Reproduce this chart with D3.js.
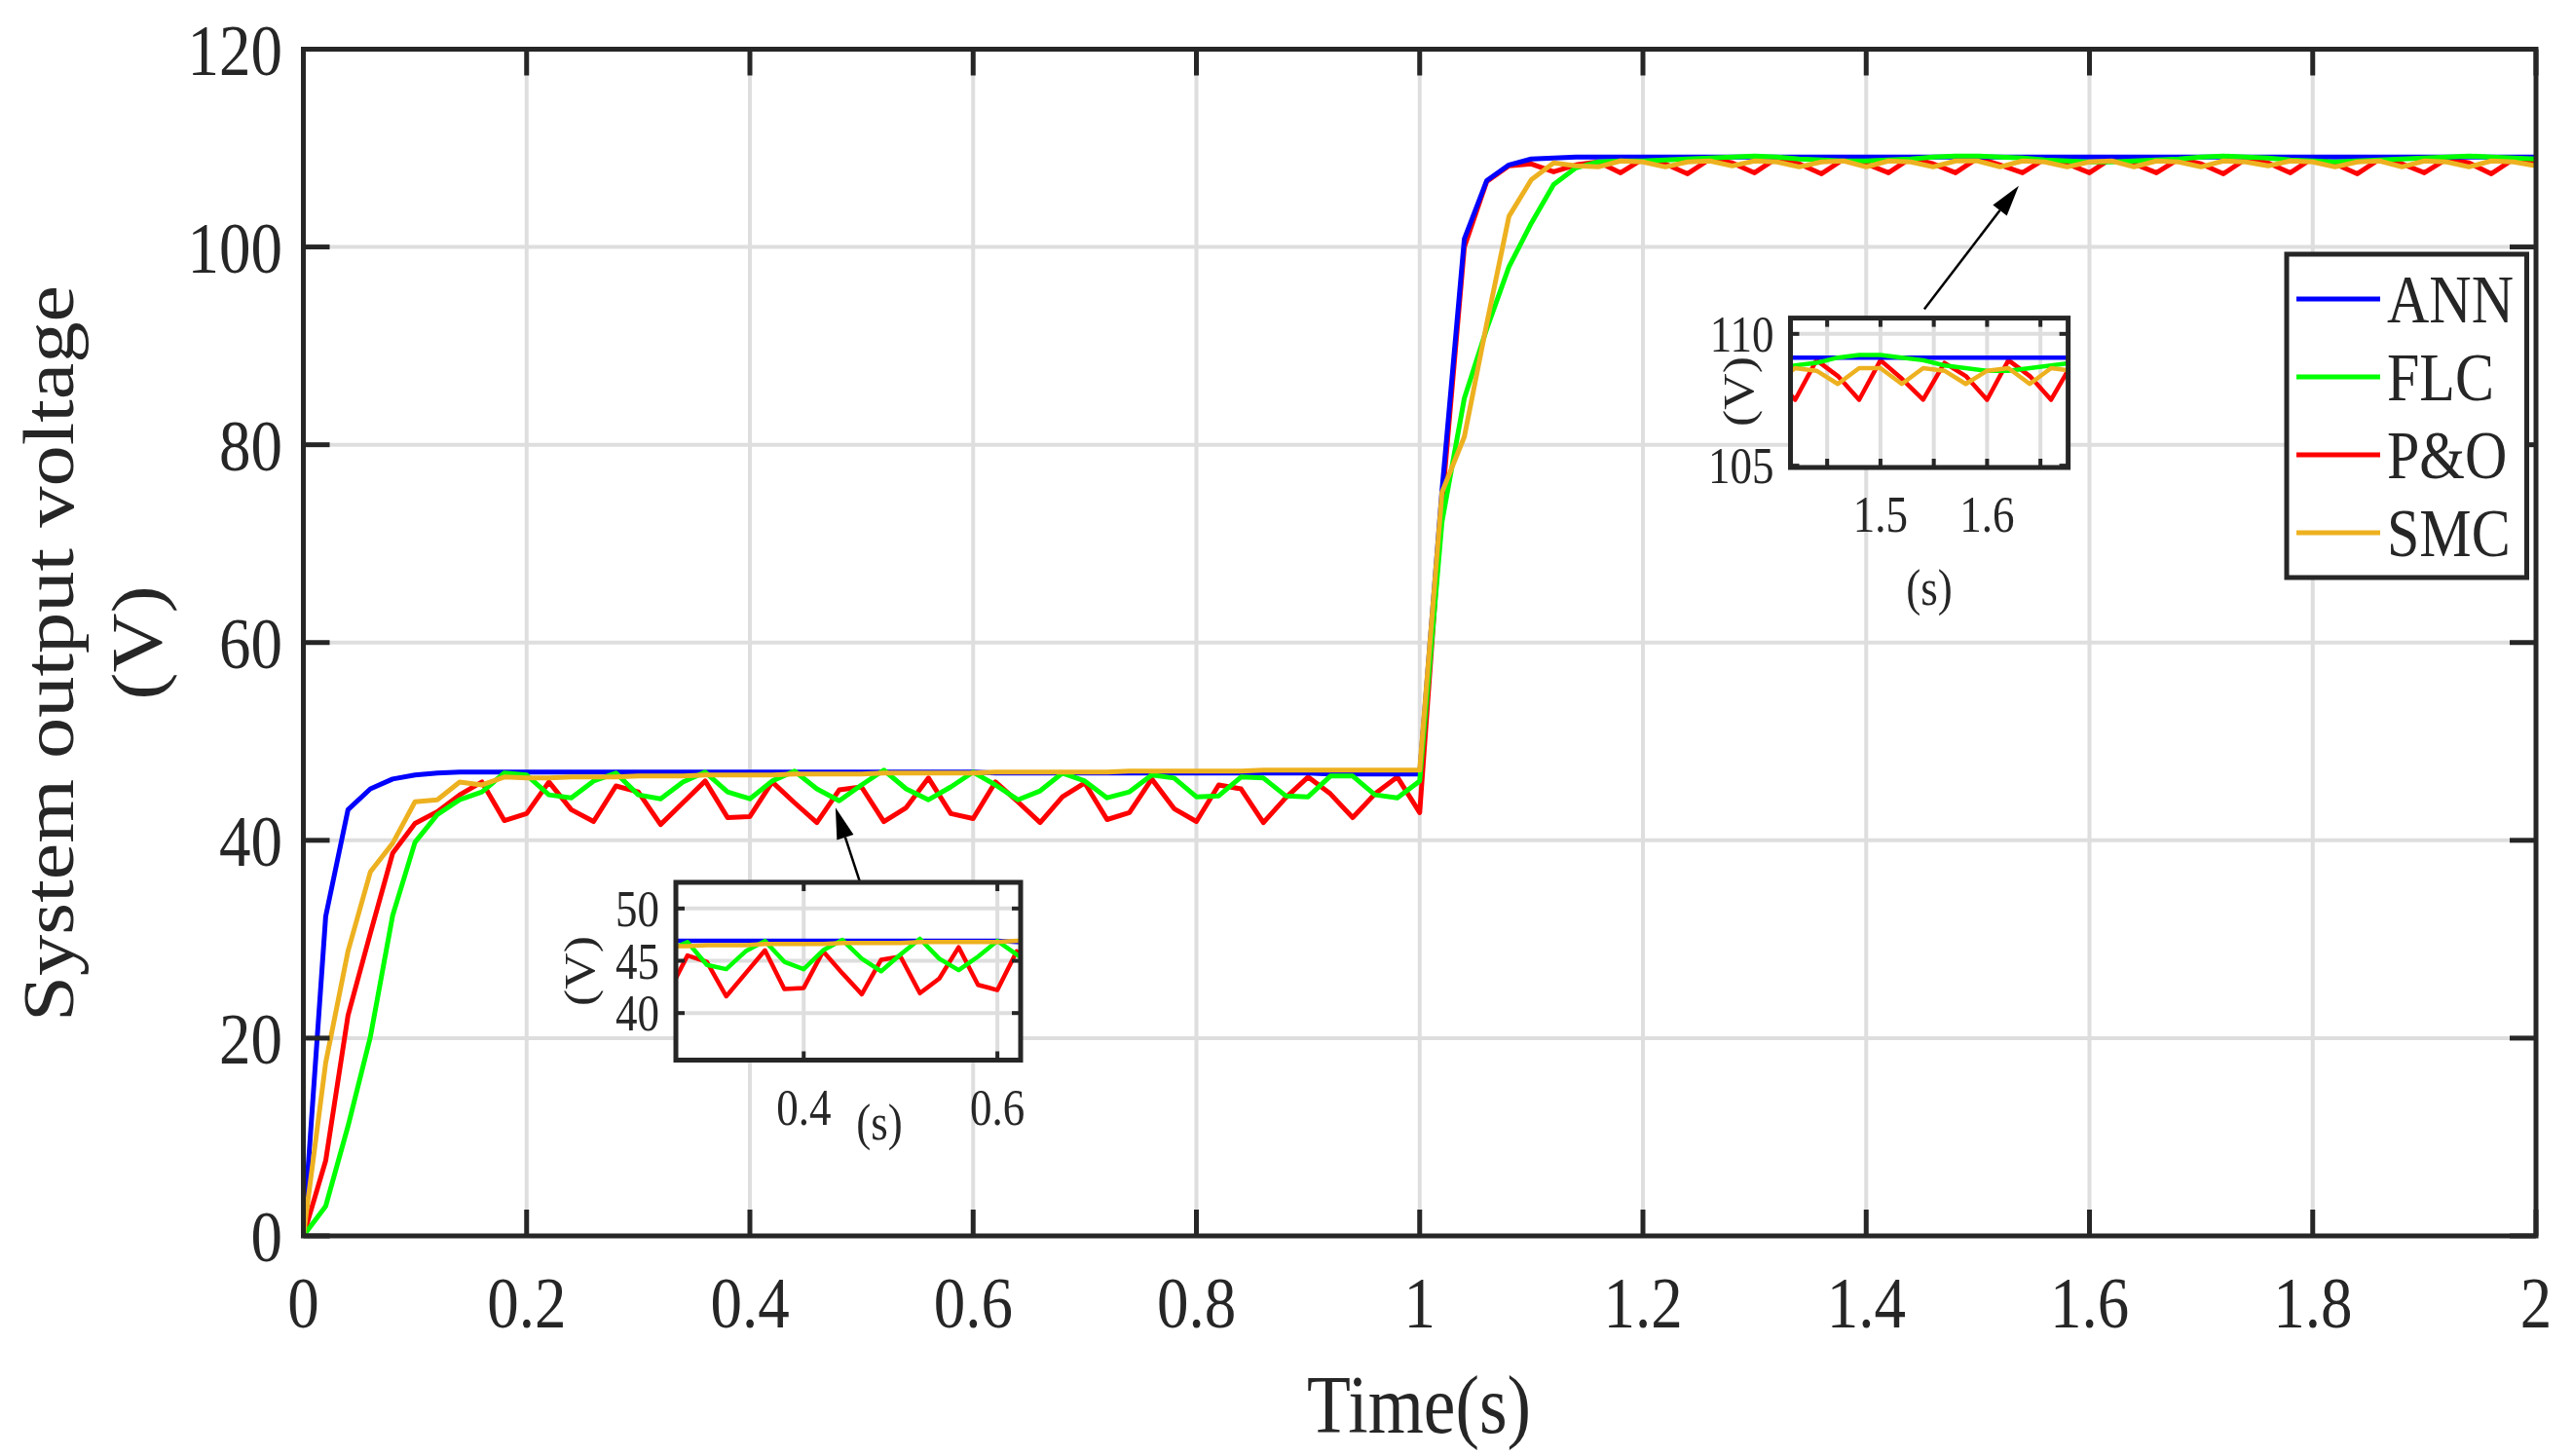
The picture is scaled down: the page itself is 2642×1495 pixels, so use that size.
<!DOCTYPE html>
<html>
<head>
<meta charset="utf-8">
<script src="https://cdn.jsdelivr.net/npm/d3@7"></script>
<style>
  body { margin: 0; background: #fff; }
  text { font-family: "Liberation Serif", "Times New Roman", serif; fill: #262626; }
</style>
</head>
<body>
<div id="chart"></div>
<script>
// sample times (s)
const time = [0,0.02,0.04,0.06,0.08,0.1,0.12,0.14,0.16,0.18,0.2,0.22,0.24,0.26,0.28,0.3,0.32,0.34,0.36,0.38,
  0.4,0.42,0.44,0.46,0.48,0.5,0.52,0.54,0.56,0.58,0.6,0.62,0.64,0.66,0.68,0.7,0.72,0.74,0.76,0.78,
  0.8,0.82,0.84,0.86,0.88,0.9,0.92,0.94,0.96,0.98,1,1.02,1.04,1.06,1.08,1.1,1.12,1.14,1.16,1.18,
  1.2,1.22,1.24,1.26,1.28,1.3,1.32,1.34,1.36,1.38,1.4,1.42,1.44,1.46,1.48,1.5,1.52,1.54,1.56,1.58,
  1.6,1.62,1.64,1.66,1.68,1.7,1.72,1.74,1.76,1.78,1.8,1.82,1.84,1.86,1.88,1.9,1.92,1.94,1.96,1.98,2];

// output voltage (V) per controller
const ann = [0,32.3,43.1,45.2,46.2,46.6,46.8,46.9,46.9,46.9,
  46.9,46.9,46.9,46.9,46.9,46.9,46.9,46.9,46.9,46.9,
  46.9,46.9,46.9,46.9,46.9,46.9,46.9,46.9,46.9,46.9,
  46.9,46.8,46.8,46.8,46.8,46.8,46.8,46.8,46.8,46.8,
  46.8,46.8,46.8,46.8,46.8,46.8,46.7,46.7,46.7,46.7,
  46.7,75.4,100.8,106.7,108.3,108.9,109.0,109.1,109.1,109.1,
  109.1,109.1,109.1,109.1,109.1,109.1,109.1,109.1,109.1,109.1,
  109.1,109.1,109.1,109.1,109.1,109.1,109.1,109.1,109.1,109.1,
  109.1,109.1,109.1,109.1,109.1,109.1,109.1,109.1,109.1,109.1,
  109.1,109.1,109.1,109.1,109.1,109.1,109.1,109.1,109.1,109.1,
  109.1];

const flc = [0,3.0,11.1,20.1,32.4,39.8,42.6,44.1,44.9,46.8,
  46.6,44.6,44.3,46.0,46.8,44.6,44.2,45.9,46.9,44.9,
  44.2,46.0,47.0,45.2,44.0,45.6,47.1,45.2,44.1,45.4,
  46.9,45.6,44.1,45.0,46.8,46.0,44.3,44.9,46.6,46.3,
  44.4,44.5,46.4,46.3,44.5,44.4,46.5,46.5,44.6,44.3,
  46.0,72.2,84.7,91.7,98.0,102.4,106.3,108.0,108.6,108.7,
  108.7,108.8,108.9,109.0,109.1,109.2,109.1,108.9,108.8,108.7,
  108.7,108.8,108.9,109.1,109.2,109.2,109.1,109.0,108.8,108.7,
  108.6,108.6,108.7,108.8,108.9,109.1,109.2,109.1,109.0,108.8,
  108.7,108.6,108.7,108.8,108.9,109.0,109.1,109.2,109.1,109.0,
  108.9];

const po = [0,7.6,22.3,30.6,38.7,41.7,42.9,44.6,45.9,42.0,
  42.7,45.9,43.1,41.9,45.5,44.9,41.6,43.8,46.0,42.3,
  42.4,45.9,43.8,41.8,45.1,45.4,41.9,43.3,46.3,42.7,
  42.2,45.9,43.9,41.8,44.4,45.8,42.1,42.8,46.2,43.2,
  41.9,45.6,45.2,41.8,44.3,46.4,44.7,42.3,44.7,46.4,
  42.8,74.0,100.0,106.6,108.2,108.4,107.6,108.3,108.6,107.5,
  108.9,108.4,107.4,108.9,108.5,107.5,109.0,108.4,107.4,108.9,
  108.4,107.5,109.0,108.4,107.5,109.0,108.3,107.5,108.9,108.4,
  107.5,109.0,108.4,107.5,108.9,108.4,107.4,108.9,108.5,107.5,
  109.0,108.4,107.4,108.9,108.4,107.5,108.9,108.5,107.4,108.9,
  108.5];

const smc = [0,17.5,28.8,36.8,39.7,43.9,44.1,45.9,45.6,46.4,
  46.3,46.3,46.4,46.4,46.4,46.5,46.5,46.5,46.6,46.6,
  46.6,46.6,46.7,46.7,46.7,46.7,46.8,46.8,46.8,46.8,
  46.8,46.9,46.9,46.9,46.9,46.9,46.9,47.0,47.0,47.0,
  47.0,47.0,47.0,47.1,47.1,47.1,47.1,47.1,47.1,47.1,
  47.1,75.2,80.8,92.2,103.1,106.8,108.5,108.2,108.1,108.7,
  108.6,108.1,108.6,108.7,108.2,108.7,108.6,108.1,108.6,108.7,
  108.1,108.7,108.6,108.1,108.7,108.7,108.1,108.7,108.6,108.1,
  108.6,108.7,108.1,108.7,108.6,108.1,108.7,108.6,108.2,108.7,
  108.6,108.1,108.6,108.7,108.1,108.7,108.6,108.1,108.7,108.6,
  108.2];

const legendNames = ["ANN", "FLC", "P&O", "SMC"];
const xTicks = [0, 0.2, 0.4, 0.6, 0.8, 1, 1.2, 1.4, 1.6, 1.8, 2];
const yTicks = [0, 20, 40, 60, 80, 100, 120];

// inset axes
const inset1XTicks = [0.4, 0.6];
const inset1YTicks = [40, 45, 50];
const inset2XGrid = [1.45, 1.5, 1.55, 1.6, 1.65];
const inset2XLabels = [1.5, 1.6];
const inset2YTicks = [105, 110];

// arrow annotations in main data coords: [tailT, tailV, tipT, tipV]
const arrows = [[0.4985, 35.8, 0.4767, 43.3], [1.452, 93.7, 1.5367, 106.2]];

const series = { ANN: ann, FLC: flc, "P&O": po, SMC: smc };
const colors = { ANN: "#0000ff", FLC: "#00ff00", "P&O": "#ff0000", SMC: "#edb120" };
const drawOrder = ["P&O", "ANN", "FLC", "SMC"];

const W = 2642, H = 1495;
const SY = 1.15;          // the figure is stretched vertically
const ink = "#262626";
const gridColor = "#dedede";

const svg = d3.select("#chart").append("svg")
  .attr("width", W).attr("height", H)
  .style("background", "#fff");

const plot = { left: 311.5, right: 2604, top: 50.5, bottom: 1269 };

const x = d3.scaleLinear().domain([0, 2]).range([plot.left, plot.right]);
const y = d3.scaleLinear().domain([0, 120]).range([plot.bottom, plot.top]);

function label(parent, px, py, s, size, anchor, rot) {
  const g = parent.append("g")
    .attr("transform", `translate(${px},${py}) scale(1,${SY})` + (rot ? " rotate(-90)" : ""));
  g.append("text")
    .attr("text-anchor", anchor)
    .attr("dy", "0.35em")
    .style("font-size", size + "px")
    .text(s);
}

const defs = svg.append("defs");

/*
  MAIN AXES
*/
defs.append("clipPath").attr("id", "clipMain").append("rect")
  .attr("x", plot.left).attr("y", plot.top)
  .attr("width", plot.right - plot.left).attr("height", plot.bottom - plot.top);

const gridG = svg.append("g");
gridG.selectAll(".vg").data(xTicks.slice(1, -1)).enter().append("line")
  .attr("x1", d => x(d)).attr("x2", d => x(d))
  .attr("y1", plot.top).attr("y2", plot.bottom)
  .attr("stroke", gridColor).attr("stroke-width", 4);
gridG.selectAll(".hg").data(yTicks.slice(1, -1)).enter().append("line")
  .attr("y1", d => y(d)).attr("y2", d => y(d))
  .attr("x1", plot.left).attr("x2", plot.right)
  .attr("stroke", gridColor).attr("stroke-width", 4);

function drawSeries(g, xs, ys, width) {
  drawOrder.forEach(name => {
    const vals = series[name];
    const line = d3.line()
      .x((d, i) => xs(time[i]))
      .y(d => ys(d));
    g.append("path")
      .datum(vals)
      .attr("d", line)
      .attr("fill", "none")
      .attr("stroke", colors[name])
      .attr("stroke-width", width)
      .attr("stroke-linejoin", "round");
  });
}

const linesG = svg.append("g").attr("clip-path", "url(#clipMain)");
drawSeries(linesG, x, y, 5);

// frame + inward ticks
svg.append("rect")
  .attr("x", plot.left).attr("y", plot.top)
  .attr("width", plot.right - plot.left).attr("height", plot.bottom - plot.top)
  .attr("fill", "none").attr("stroke", ink).attr("stroke-width", 5);

const tickLen = 27;
const tickG = svg.append("g").attr("stroke", ink).attr("stroke-width", 5);
xTicks.forEach(t => {
  tickG.append("line").attr("x1", x(t)).attr("x2", x(t)).attr("y1", plot.bottom).attr("y2", plot.bottom - tickLen);
  tickG.append("line").attr("x1", x(t)).attr("x2", x(t)).attr("y1", plot.top).attr("y2", plot.top + tickLen);
});
yTicks.forEach(v => {
  tickG.append("line").attr("y1", y(v)).attr("y2", y(v)).attr("x1", plot.left).attr("x2", plot.left + tickLen);
  tickG.append("line").attr("y1", y(v)).attr("y2", y(v)).attr("x1", plot.right).attr("x2", plot.right - tickLen);
});

xTicks.forEach(t => label(svg, x(t), 1337, String(t), 65, "middle"));
yTicks.forEach(v => label(svg, 290, y(v), String(v), 65, "end"));

label(svg, 1457, 1441, "Time(s)", 73.5, "middle");
label(svg, 49, 671, "System output voltage", 73.5, "middle", true);
label(svg, 140, 660, "(V)", 73.5, "middle", true);

/*
  ARROWS
*/
function arrow(a) {
  const x0 = x(a[0]), y0 = y(a[1]), x1 = x(a[2]), y1 = y(a[3]);
  const ang = Math.atan2(y1 - y0, x1 - x0);
  const hl = 32, hw = 9;
  const bx = x1 - hl * Math.cos(ang), by = y1 - hl * Math.sin(ang);
  svg.append("line")
    .attr("x1", x0).attr("y1", y0).attr("x2", bx).attr("y2", by)
    .attr("stroke", "#000").attr("stroke-width", 2.5);
  const px = -Math.sin(ang) * hw, py = Math.cos(ang) * hw;
  svg.append("polygon")
    .attr("points", `${x1},${y1} ${bx + px},${by + py} ${bx - px},${by - py}`)
    .attr("fill", "#000");
}
arrows.forEach(arrow);

/*
  INSETS
*/
function inset(cfg) {
  const b = cfg.box;
  const g = svg.append("g");
  const xs = d3.scaleLinear().domain(cfg.xDomain).range([b.left, b.right]);
  const ys = d3.scaleLinear().domain(cfg.yDomain).range([b.bottom, b.top]);
  const id = "clip" + cfg.id;
  defs.append("clipPath").attr("id", id).append("rect")
    .attr("x", b.left).attr("y", b.top)
    .attr("width", b.right - b.left).attr("height", b.bottom - b.top);

  g.append("rect")
    .attr("x", b.left).attr("y", b.top)
    .attr("width", b.right - b.left).attr("height", b.bottom - b.top)
    .attr("fill", "#fff");

  const ig = g.append("g").attr("clip-path", `url(#${id})`);
  cfg.xGrid.forEach(t => ig.append("line")
    .attr("x1", xs(t)).attr("x2", xs(t)).attr("y1", b.top).attr("y2", b.bottom)
    .attr("stroke", gridColor).attr("stroke-width", 4));
  cfg.yGrid.forEach(v => ig.append("line")
    .attr("y1", ys(v)).attr("y2", ys(v)).attr("x1", b.left).attr("x2", b.right)
    .attr("stroke", gridColor).attr("stroke-width", 4));
  drawSeries(ig, xs, ys, 4.5);

  g.append("rect")
    .attr("x", b.left).attr("y", b.top)
    .attr("width", b.right - b.left).attr("height", b.bottom - b.top)
    .attr("fill", "none").attr("stroke", ink).attr("stroke-width", 5);

  const tl = 9;
  const tg = g.append("g").attr("stroke", ink).attr("stroke-width", 4);
  cfg.xGrid.forEach(t => {
    tg.append("line").attr("x1", xs(t)).attr("x2", xs(t)).attr("y1", b.bottom).attr("y2", b.bottom - tl);
    tg.append("line").attr("x1", xs(t)).attr("x2", xs(t)).attr("y1", b.top).attr("y2", b.top + tl);
  });
  cfg.yTicks.forEach(v => {
    tg.append("line").attr("y1", ys(v)).attr("y2", ys(v)).attr("x1", b.left).attr("x2", b.left + tl);
    tg.append("line").attr("y1", ys(v)).attr("y2", ys(v)).attr("x1", b.right).attr("x2", b.right - tl);
  });

  cfg.xLabels.forEach(t => label(g, xs(t), b.bottom + 48, String(t), 45, "middle"));
  cfg.yTicks.forEach(v => label(g, b.left - 17, ys(v), String(v), 45, "end"));
  label(g, cfg.sPos[0], cfg.sPos[1], "(s)", 45, "middle");
  label(g, cfg.vPos[0], cfg.vPos[1], "(V)", 45, "middle", true);
}

inset({
  id: "In1",
  box: { left: 694, right: 1048, top: 906, bottom: 1088.5 },
  xDomain: [0.268, 0.624], yDomain: [35.5, 52.5],
  xGrid: inset1XTicks, xLabels: inset1XTicks,
  yGrid: inset1YTicks, yTicks: inset1YTicks,
  sPos: [903, 1152], vPos: [594, 997]
});

inset({
  id: "In2",
  box: { left: 1838.5, right: 2123.6, top: 326.6, bottom: 480 },
  xDomain: [1.4156, 1.676], yDomain: [104.93, 110.6],
  xGrid: inset2XGrid, xLabels: inset2XLabels,
  yGrid: [110], yTicks: inset2YTicks,
  sPos: [1981, 603], vPos: [1784, 402]
});

/*
  LEGEND
*/
const lg = svg.append("g");
lg.append("rect")
  .attr("x", 2348).attr("y", 261).attr("width", 246.5).attr("height", 332)
  .attr("fill", "#fff").attr("stroke", ink).attr("stroke-width", 5);
legendNames.forEach((name, i) => {
  const ly = 307 + i * 80;
  lg.append("line")
    .attr("x1", 2358).attr("x2", 2444).attr("y1", ly).attr("y2", ly)
    .attr("stroke", colors[name]).attr("stroke-width", 5);
  label(lg, 2451, ly, name, 60, "start");
});
</script>
</body>
</html>
